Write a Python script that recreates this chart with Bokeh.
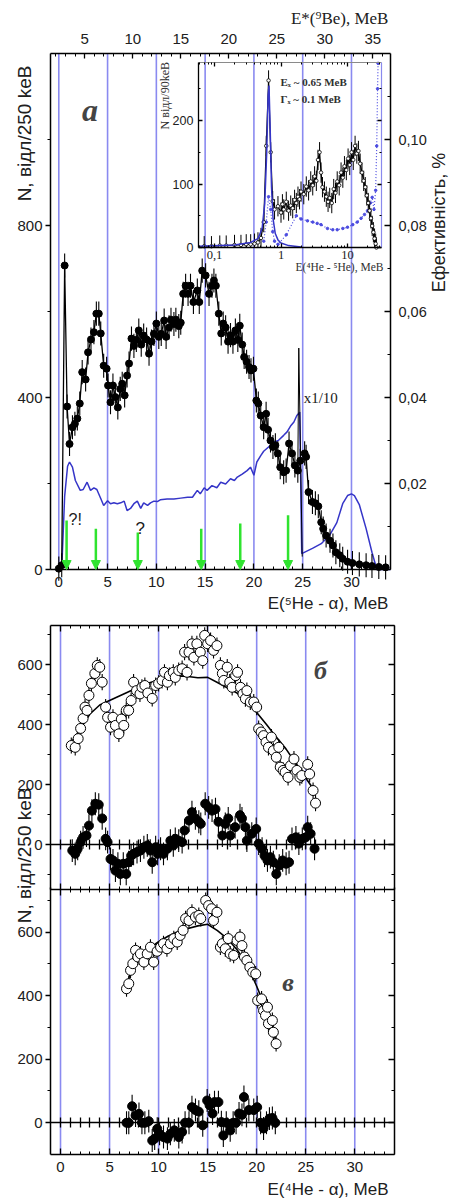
import math
from bokeh.plotting import figure
from bokeh.models import (Range1d, LinearAxis, LogAxis, LogScale, FixedTicker,
                          CustomJSTickFormatter, Label, Arrow, NormalHead, ColumnDataSource)
from bokeh.layouts import column
from bokeh.embed import file_html
from bokeh.resources import INLINE

# ---------------- data: panel a ----------------
a_x = [0.0, 0.3, 0.6, 0.85, 1.1, 1.4, 1.65, 1.9, 2.15, 2.4, 2.75, 3.0, 3.3, 3.6, 3.85, 4.1, 4.3, 4.6,
       4.9, 5.05, 5.3, 5.55, 5.8, 6.05, 6.3, 6.5, 6.75, 7.0, 7.2, 7.45, 7.7, 7.95, 8.2, 8.45, 8.7, 9.0,
       9.25, 9.5, 9.75, 10.0, 10.25, 10.5, 10.8, 11.0, 11.3, 11.5, 11.8, 12.0, 12.3, 12.5, 12.75, 13.0,
       13.25, 13.5, 13.8, 14.2, 14.4, 14.7, 15.05, 15.4, 15.7, 15.9, 16.1, 16.4, 16.65, 16.85, 17.1,
       17.35, 17.6, 17.85, 18.1, 18.35, 18.55, 18.8, 19.0, 19.25, 19.5, 19.7, 19.95, 20.25, 20.45,
       20.7, 21.0, 21.25, 21.45, 21.7, 21.95, 22.2, 22.45, 22.7, 23.05, 23.3, 23.6, 23.9, 24.2, 24.5,
       24.75]
a_n = [2, 10, 707, 379, 292, 331, 339, 351, 386, 459, 442, 505, 535, 552, 595, 595, 549, 474, 467,
       428, 389, 428, 401, 377, 420, 432, 405, 451, 479, 537, 520, 534, 556, 523, 544, 535, 502, 530,
       548, 572, 541, 548, 579, 541, 563, 581, 571, 581, 566, 574, 641, 660, 641, 660, 622, 649, 622,
       695, 684, 641, 660, 672, 660, 595, 549, 572, 563, 530, 545, 530, 556, 534, 567, 523, 494, 483,
       471, 463, 467, 393, 386, 358, 331, 362, 325, 300, 285, 289, 270, 238, 226, 230, 293, 270, 242,
       230, 253]
a_tail_x = [25.2, 25.35, 25.6, 26.0, 26.3, 26.6, 26.9, 27.1, 27.4, 27.8, 28.1, 28.4, 28.8, 29.1,
            29.6, 30.1, 30.8, 31.5, 32.1, 32.8, 33.5]
a_tail_n = [270, 262, 180, 157, 154, 147, 110, 95, 79, 67, 56, 40, 33, 25, 18, 15, 12, 10, 8, 6, 5]
edge_x = [24.5, 24.6, 24.95]
edge_n = [230, 515, 30]
ERR_A = 28

eff_x = [0.0, 0.3, 0.6, 0.9, 1.1, 1.4, 1.7, 2.2, 2.5, 2.9, 3.25, 3.6, 3.9, 4.3, 4.6, 5.0, 5.3, 5.65,
         6.0, 6.35, 6.7, 7.0, 7.35, 7.7, 8.05, 8.4, 8.7, 9.1, 9.4, 9.75, 10.1, 10.4, 11.1, 11.8, 12.5,
         13.2, 13.7, 14.2, 14.5, 14.9, 15.2, 15.7, 16.2, 16.6, 17.1, 17.6, 18.0, 18.3, 18.8, 19.3,
         19.65, 20.0, 20.3, 20.7, 21.0, 21.5, 22.0, 22.5, 23.05, 23.4, 23.8, 24.1, 24.4, 24.7, 24.9,
         26.0, 26.9, 27.8, 28.5, 29.1, 29.6, 30.0, 30.3, 30.8, 31.5, 32.1, 32.6, 34.0]
eff_pct = [0.0, 0.0, 0.0170, 0.0240, 0.0250, 0.0238, 0.0207, 0.0184, 0.0186, 0.0203, 0.0184, 0.0190,
           0.0186, 0.0165, 0.0149, 0.0160, 0.0153, 0.0155, 0.0153, 0.0155, 0.0159, 0.0137, 0.0142,
           0.0153, 0.0159, 0.0142, 0.0155, 0.0149, 0.0155, 0.0159, 0.0158, 0.0162, 0.0164, 0.0164,
           0.0166, 0.0168, 0.0168, 0.0184, 0.0176, 0.0190, 0.0184, 0.0195, 0.0190, 0.0203, 0.0199,
           0.0211, 0.0207, 0.0215, 0.0222, 0.0230, 0.0238, 0.0219, 0.0250, 0.0265, 0.0275, 0.0285,
           0.0296, 0.0300, 0.0312, 0.0320, 0.0335, 0.0343, 0.0358, 0.0366, 0.0037, 0.0049, 0.0060,
           0.0081, 0.0109, 0.0153, 0.0172, 0.0176, 0.0172, 0.0151, 0.0095, 0.0040, 0.0, 0.0]

arrow_x = [0.8, 3.8, 8.1, 14.6, 18.6, 23.5]
arrow_top = [114, 95, 86, 95, 107, 126]
arrow_tip = [0, 0, 0, 0, 0, 0]

# inset (E(4He-5He) spectrum)
ins_x = [0.07, 0.09, 0.12, 0.15, 0.2, 0.25, 0.3, 0.35, 0.4, 0.45, 0.5, 0.55, 0.6, 0.65, 0.7, 0.75,
         0.8, 0.9, 1.0, 1.05, 1.1, 1.2, 1.3, 1.4, 1.5, 1.6, 1.7, 1.8, 1.9, 2.0, 2.2, 2.4, 2.6, 2.8,
         3.0, 3.2, 3.4, 3.6, 3.8, 4.0, 4.2, 4.5, 4.8, 5.1, 5.4, 5.8, 6.2, 6.6, 7.0, 7.5, 8.0, 8.5,
         9.0, 9.6, 10.2, 10.8, 11.5, 12.2, 13.0, 13.8, 14.6, 15.5, 16.5, 17.5, 18.5, 19.5, 20.5,
         21.5, 22.5, 23.5, 24.5, 25.5, 26.5, 27.2]
ins_n = [2, 2, 3, 3, 4, 4, 5, 5, 6, 8, 15, 40, 160, 263, 150, 73, 60, 65, 55, 68, 60, 72, 58, 66,
         62, 75, 70, 80, 76, 88, 84, 96, 90, 104, 98, 112, 105, 138, 150, 118, 95, 88, 80, 72, 78,
         70, 92, 86, 104, 98, 118, 110, 128, 122, 140, 130, 150, 138, 160, 148, 152, 132, 118, 105,
         95, 82, 70, 58, 46, 34, 24, 14, 6, 0]
ERR_INS = 16
ins_fit_x = [0.0574, 0.2, 0.35, 0.45, 0.52, 0.57, 0.61, 0.64, 0.66, 0.69, 0.72, 0.76, 0.82, 0.9,
             1.0, 1.3, 2.0]
ins_fit_n = [2, 4, 8, 14, 30, 70, 150, 240, 255, 180, 95, 45, 22, 12, 7, 3, 1]
ins_sim_x = [0.55, 0.6, 0.65, 0.7, 0.75, 0.8, 0.9, 1.2, 1.7, 2.0, 2.5, 3.0, 3.5, 4.0, 5.0, 6.0, 7.0,
             8.5, 10.0, 12.0, 14.0, 16.0, 18.0, 20.0, 22.0, 23.5, 25.0, 26.5, 27.5, 28.3, 28.8]
ins_sim_n = [10, 40, 80, 60, 25, 10, 5, 20, 50, 45, 42, 40, 38, 36, 30, 28, 28, 30, 32, 36, 40, 46,
             52, 58, 70, 79, 60, 90, 160, 250, 290]

# ---------------- data: panel b ----------------
b_x = [1.1, 1.5, 1.8, 2.05, 2.3, 2.5, 2.7, 2.9, 3.15, 3.5, 3.75, 4.0, 4.25, 4.6, 4.8, 5.1, 5.35, 5.6,
       5.95, 6.2, 6.45, 6.7, 6.95, 7.2, 7.45, 7.75, 8.1, 8.3, 8.6, 8.9, 9.35, 9.7, 10.0, 10.35, 10.6,
       10.9, 11.1, 11.5, 11.7, 12.05, 12.4, 12.65, 12.9, 13.1, 13.4, 13.6, 13.9, 14.25, 14.5, 14.7,
       15.0, 15.3, 15.6, 15.95, 16.3, 16.5, 16.65, 17.0, 17.25, 17.5, 17.85, 18.05, 18.35, 18.6, 18.85,
       19.0, 19.35, 19.7, 20.0, 20.2, 20.45, 20.7, 20.95, 21.2, 21.5, 21.7, 22.0, 22.25, 22.4, 22.7,
       22.9, 23.2, 23.45, 23.8, 24.1, 24.4, 24.6, 25.2, 25.4, 25.75, 26.0]
b_n = [330, 324, 353, 387, 420, 458, 447, 497, 537, 570, 597, 591, 541, 458, 424, 391, 424, 397, 369,
       418, 397, 447, 447, 480, 541, 513, 502, 524, 530, 505, 487, 530, 537, 547, 574, 541, 563, 574,
       557, 580, 586, 641, 574, 641, 669, 624, 669, 641, 613, 697, 669, 680, 647, 663, 597, 570, 547,
       591, 541, 524, 563, 574, 524, 502, 486, 513, 475, 475, 458, 386, 375, 363, 341, 324, 358, 313,
       291, 324, 258, 247, 241, 224, 263, 285, 247, 224, 230, 267, 235, 180, 138]
bfit_x = [1.2, 2, 3, 4, 5, 6, 7, 8, 9, 10, 11, 12, 13, 14, 15, 16, 17, 18, 19, 20, 21, 22, 23, 24, 25, 26]
bfit_n = [345, 385, 435, 465, 480, 495, 510, 525, 538, 548, 556, 562, 560, 556, 557, 540, 522, 505,
          478, 440, 400, 358, 318, 270, 222, 175]
bd_x = [1.2, 1.5, 1.75, 2.05, 2.3, 2.65, 2.9, 3.2, 3.55, 3.9, 4.25, 4.6, 4.8, 5.1, 5.35, 5.6, 5.85,
        6.1, 6.4, 6.7, 6.95, 7.2, 7.45, 7.8, 8.15, 8.5, 8.85, 9.15, 9.35, 9.7, 9.9, 10.2, 10.5, 10.9,
        11.2, 11.5, 11.7, 12.05, 12.4, 12.65, 13.1, 13.4, 13.75, 14.1, 14.3, 14.75, 15.1, 15.45, 15.8,
        16.1, 16.5, 16.8, 17.1, 17.3, 17.8, 18.3, 18.5, 18.85, 19.0, 19.5, 19.95, 20.2, 20.55, 20.8,
        21.1, 21.4, 21.7, 22.0, 22.3, 22.65, 23.0, 23.3, 23.6, 24.0, 24.3, 24.65, 25.0, 25.2, 25.5, 25.9]
bd_n = [-20, -31, -14, 8, 24, 30, 63, 113, 136, 133, 87, 19, 8, -48, -53, -87, -64, -98, -64, -98,
        -59, -37, -31, -25, -20, -9, -3, -20, -59, -9, -31, -14, -31, -14, 13, -3, 19, 13, 8, 47, 80,
        108, 87, 76, 69, 136, 124, 113, 118, 76, 30, 69, 87, 30, 58, 98, 87, 58, 13, 36, 52, 3, -14,
        -37, -53, -42, -59, -98, -70, -53, -64, -59, 19, 24, 3, 19, 24, 58, 36, -14]
ERR_B = 27
ERR_BD = 38

# ---------------- data: panel v ----------------
v_x = [6.73, 6.96, 7.14, 7.37, 7.65, 7.88, 8.15, 8.5, 8.84, 9.17, 9.5, 9.85, 10.2, 10.5, 10.85, 11.2,
       11.55, 11.9, 12.2, 12.5, 12.75, 13.1, 13.4, 13.75, 14.1, 14.3, 14.8, 15.1, 15.4, 15.6, 15.95,
       16.3, 16.5, 16.8, 17.1, 17.3, 17.65, 18.0, 18.3, 18.5, 18.75, 19.0, 19.3, 19.6, 19.9, 20.1,
       20.5, 20.7, 20.9, 21.1, 21.2, 21.6, 21.7, 21.98]
v_n = [422, 438, 480, 501, 543, 522, 532, 506, 532, 553, 506, 540, 553, 564, 548, 564, 580, 569, 590,
       606, 643, 637, 663, 648, 653, 643, 700, 684, 674, 637, 663, 553, 564, 548, 580, 532, 527, 574,
       585, 558, 522, 511, 490, 474, 469, 385, 390, 353, 338, 364, 312, 322, 285, 249]
vfit_x = [6.73, 7.2, 8, 9, 10, 11, 12, 13, 14, 15, 16, 17, 18, 19, 20, 21, 22]
vfit_n = [432, 478, 518, 548, 570, 588, 602, 612, 620, 625, 605, 580, 545, 500, 430, 355, 255]
vd_x = [6.73, 6.96, 7.3, 7.65, 8.0, 8.3, 8.6, 9.0, 9.35, 9.6, 9.86, 10.1, 10.5, 10.9, 11.2, 11.6,
        12.06, 12.4, 12.7, 13.1, 13.4, 13.76, 14.1, 14.5, 14.95, 15.2, 15.5, 15.7, 16.1, 16.4, 16.6,
        16.9, 17.3, 17.6, 17.9, 18.2, 18.5, 18.7, 19.2, 19.7, 20.05, 20.4, 20.7, 21.0, 21.3, 21.6, 21.9]
vd_n = [0, 0, 52, 23, 28, 0, 0, 5, -56, -50, -19, -35, -45, -50, -35, -24, -45, -29, 0, 0, 49, 40,
        35, -8, 70, 55, 29, 65, 65, 2, -40, 0, -24, 0, 0, 29, 25, 81, 40, 40, 49, 0, -18, 0, 13, 15, 0]
ERR_V = 25
ERR_VD = 36

# ---------------- ticks ----------------
x_major = [0, 5, 10, 15, 20, 25, 30]
x_minor = list(range(0, 35))
top_major = [5, 10, 15, 20, 25, 30, 35]
top_minor = list(range(2, 37))
n_major_a = [0, 400, 800]
n_minor_a = [200, 600, 1000]
eff_major = [0.02, 0.04, 0.06, 0.08, 0.10]
eff_minor = [0.01, 0.03, 0.05, 0.07, 0.09, 0.11]
ins_x_major = [0.1, 1, 10]
ins_x_minor = [0.06, 0.07, 0.08, 0.09, 0.2, 0.3, 0.4, 0.5, 0.6, 0.7, 0.8, 0.9,
               2, 3, 4, 5, 6, 7, 8, 9, 20, 30]
ins_n_major = [0, 100, 200]
ins_n_minor = [50, 150, 250]
bv_major = [0, 200, 400, 600]
b_minor = [-100, 100, 300, 500, 700]
v_minor = [100, 300, 500, 700]
zero_ticks = list(range(0, 34))

# ---------------- styles ----------------
BLUE = "#3535c8"
GRID = "#8a8af0"
GREEN = "#2fe32f"
SANS = "Liberation Sans"
SERIF = "Liberation Serif"


def ext(lo, hi, plo, phi, total):
    """range whose [lo, hi] sits at pixels [plo, phi] of a canvas side 0..total"""
    s = (hi - lo) / (phi - plo)
    return lo - plo * s, hi + (total - phi) * s


def style_axis(ax, size="15px", show=True, t_in=0, t_out=0, m_in=0, m_out=0, standoff=4,
               font=SANS, color="black", lw=1.5):
    ax.axis_line_width = lw
    ax.axis_line_color = color
    ax.major_tick_line_width = 1.3
    ax.minor_tick_line_width = 1.0
    ax.major_tick_line_color = "black"
    ax.minor_tick_line_color = "black"
    ax.major_tick_in = t_in
    ax.major_tick_out = t_out
    ax.minor_tick_in = m_in
    ax.minor_tick_out = m_out
    ax.major_label_text_font = font
    if show:
        ax.major_label_text_font_size = size
        ax.major_label_standoff = standoff
        ax.major_label_text_color = "#202020"
    else:
        ax.major_label_text_font_size = "2px"
        ax.major_label_standoff = 0
        ax.major_label_text_alpha = 0
    ax.axis_label = None


def errbars(p, xs, ys, err, **kw):
    p.segment(x0=xs, y0=[y - err for y in ys], x1=xs, y1=[y + err for y in ys],
              line_color="black", line_width=1.1, **kw)


# ================= panel a (frame = whole canvas, axes fixed) =================
WA, HA = 453, 612
XA0, XA1 = -0.85, 34.0          # frame x extent (px 50..390)
YA0, YA1 = 0, 1200              # frame y extent (px 569..53)
TX0, TX1 = 1.43, 36.84
IXL0, IXL1 = math.log10(3.42e-4), math.log10(44.3)
lx0, lx1 = ext(IXL0, IXL1, 50, 390, WA)

pa = figure(width=WA, height=HA, x_range=Range1d(*ext(XA0, XA1, 50, 390, WA)),
            y_range=Range1d(*ext(YA0, YA1, 43, 559, HA)),
            x_axis_location=None, y_axis_location=None,
            output_backend="svg", toolbar_location=None,
            min_border_left=0, min_border_right=0, min_border_top=0, min_border_bottom=0)
pa.extra_x_ranges = {"top": Range1d(*ext(TX0, TX1, 50, 390, WA)),
                     "ix": Range1d(10 ** lx0, 10 ** lx1)}
pa.extra_x_scales = {"ix": LogScale()}
pa.extra_y_ranges = {"eff": Range1d(*ext(0, 0.12, 43, 559, HA)),
                     "iy": Range1d(*ext(-507, 305.5, 43, 559, HA))}
pa.outline_line_color = None
pa.grid.visible = False

# vertical blue lines
pa.segment(x0=x_major, y0=[YA0] * len(x_major), x1=x_major, y1=[YA1] * len(x_major),
           line_color=GRID, line_width=1.6)

axb = LinearAxis(fixed_location=YA0, bounds=(XA0, XA1),
                 ticker=FixedTicker(ticks=x_major, minor_ticks=x_minor))
style_axis(axb, t_in=6, m_in=3, standoff=7)
pa.add_layout(axb, "below")
axl = LinearAxis(fixed_location=XA0, bounds=(YA0, YA1),
                 ticker=FixedTicker(ticks=n_major_a, minor_ticks=n_minor_a))
style_axis(axl, t_out=5, m_out=3, standoff=3)
pa.add_layout(axl, "left")
axr = LinearAxis(y_range_name="eff", fixed_location=XA1, bounds=(0, 0.12),
                 ticker=FixedTicker(ticks=eff_major, minor_ticks=eff_minor),
                 formatter=CustomJSTickFormatter(code="return tick.toFixed(2).replace('.', ',');"))
style_axis(axr, size="14.5px", t_in=6, m_in=3, standoff=8)
pa.add_layout(axr, "right")
axt = LinearAxis(x_range_name="top", fixed_location=YA1, bounds=(TX0, TX1),
                 ticker=FixedTicker(ticks=top_major, minor_ticks=top_minor))
style_axis(axt, t_in=5, m_in=3, standoff=10)
pa.add_layout(axt, "above")

# inset axes
IX0, IX1, IY0, IY1 = 0.0574, 31.9, 0, 291
ins_fmt = CustomJSTickFormatter(code="return tick < 1 ? tick.toFixed(1).replace('.', ',') : tick.toFixed(0);")
ia_b = LogAxis(x_range_name="ix", y_range_name="iy", fixed_location=IY0, bounds=(IX0, IX1),
               ticker=FixedTicker(ticks=ins_x_major, minor_ticks=ins_x_minor), formatter=ins_fmt)
style_axis(ia_b, size="12.5px", t_in=4, m_in=2, standoff=3, font=SERIF, lw=1.3)
pa.add_layout(ia_b, "below")
ia_l = LinearAxis(x_range_name="ix", y_range_name="iy", fixed_location=IX0, bounds=(IY0, IY1),
                  ticker=FixedTicker(ticks=ins_n_major, minor_ticks=ins_n_minor))
style_axis(ia_l, size="12.5px", t_in=4, m_in=2, standoff=5, lw=1.3)
pa.add_layout(ia_l, "left")
ia_t = LogAxis(x_range_name="ix", y_range_name="iy", fixed_location=IY1, bounds=(IX0, IX1),
               ticker=FixedTicker(ticks=ins_x_major, minor_ticks=ins_x_minor))
style_axis(ia_t, show=False, t_in=4, m_in=2, color="#8a8a8a", lw=1.2)
pa.add_layout(ia_t, "above")
ia_r = LinearAxis(x_range_name="ix", y_range_name="iy", fixed_location=IX1, bounds=(IY0, IY1),
                  ticker=FixedTicker(ticks=ins_n_major, minor_ticks=ins_n_minor))
style_axis(ia_r, show=False, t_in=4, m_in=2, color="#8a8aee", lw=1.2)
pa.add_layout(ia_r, "right")

# efficiency curve
pa.line(eff_x, eff_pct, y_range_name="eff", line_color=BLUE, line_width=1.5)
# data
pa.line(a_x, a_n, line_color="black", line_width=1.3)
pa.line(edge_x, edge_n, line_color="black", line_width=1.0)
pa.line(a_tail_x, a_tail_n, line_color="black", line_width=1.3)
errbars(pa, a_x, a_n, ERR_A)
errbars(pa, a_tail_x, a_tail_n, ERR_A)
pa.scatter(a_x, a_n, size=7, color="black")
pa.scatter(a_tail_x, a_tail_n, size=7, color="black")

# inset glyphs
pa.line(ins_sim_x, ins_sim_n, x_range_name="ix", y_range_name="iy", line_color="#4b4be0",
        line_width=1.2, line_dash="1 2")
pa.scatter(ins_sim_x, ins_sim_n, x_range_name="ix", y_range_name="iy", size=2.5,
           color="#4b4be0")
pa.segment(x0=ins_x, y0=[max(0, n - ERR_INS) for n in ins_n], x1=ins_x,
           y1=[n + ERR_INS for n in ins_n], x_range_name="ix", y_range_name="iy",
           line_color="black", line_width=1.0)
pa.line(ins_x, ins_n, x_range_name="ix", y_range_name="iy", line_color="black", line_width=1.2)
pa.scatter(ins_x, ins_n, x_range_name="ix", y_range_name="iy", size=3.5, fill_color="white",
           line_color="black", line_width=0.8)
pa.line(ins_fit_x, ins_fit_n, x_range_name="ix", y_range_name="iy", line_color=BLUE, line_width=1.5)

# arrows
asrc = ColumnDataSource(dict(x0=arrow_x, y0=arrow_top, x1=arrow_x, y1=arrow_tip))
pa.add_layout(Arrow(end=NormalHead(size=9, fill_color=GREEN, line_color=GREEN),
                    x_start="x0", y_start="y0", x_end="x1", y_end="y1", source=asrc,
                    line_color=GREEN, line_width=2.5))

# texts panel a
pa.add_layout(Label(x=3.2, y=1068, text="а", text_font=SERIF, text_font_style="bold italic",
                    text_font_size="32px", text_align="center", text_baseline="alphabetic"))
pa.add_layout(Label(x=33.79, y=1281, text="E*(⁹Be), MeB", text_font=SERIF, text_font_size="17px",
                    text_align="right", text_baseline="middle", text_color="#202020"))
pa.add_layout(Label(x=33.79, y=-79, text="E(⁵He - α), MeB", text_font=SANS, text_font_size="17px",
                    text_align="right", text_baseline="middle", text_color="#202020"))
pa.add_layout(Label(x=-3.51, y=1014, text="N, відл/250 keB", text_font=SANS, text_font_size="19px",
                    angle=math.pi / 2, text_align="center", text_baseline="middle",
                    text_color="#202020"))
pa.add_layout(Label(x=38.99, y=807, text="Ефективність, %", text_font=SANS, text_font_size="18px",
                    angle=math.pi / 2, text_align="center", text_baseline="middle",
                    text_color="#202020"))
pa.add_layout(Label(x=1.0, y=117, text="?!", text_font=SANS, text_font_size="16px",
                    text_align="left", text_baseline="alphabetic", text_color="#202020"))
pa.add_layout(Label(x=7.86, y=96, text="?", text_font=SANS, text_font_size="17px",
                    text_align="left", text_baseline="alphabetic", text_color="#202020"))
pa.add_layout(Label(x=25.1, y=400, text="x1/10", text_font=SERIF, text_font_size="15px",
                    text_align="left", text_baseline="alphabetic", text_color="#202020"))
pa.add_layout(Label(x=0.98, y=260, x_range_name="ix", y_range_name="iy", text="Eₓ ~ 0.65 MeB",
                    text_font=SERIF, text_font_style="bold", text_font_size="11px",
                    text_align="left", text_baseline="middle", text_color="#303030"))
pa.add_layout(Label(x=0.98, y=234, x_range_name="ix", y_range_name="iy", text="Γₓ ~ 0.1 MeB",
                    text_font=SERIF, text_font_style="bold", text_font_size="11px",
                    text_align="left", text_baseline="middle", text_color="#303030"))
pa.add_layout(Label(x=34.7, y=-30, x_range_name="ix", y_range_name="iy",
                    text="E(⁴He - ⁵He), MeB", text_font=SERIF, text_font_size="11.5px",
                    text_align="right", text_baseline="middle", text_color="#303030"))
pa.add_layout(Label(x=0.0183, y=239, x_range_name="ix", y_range_name="iy", text="N відл/90keB",
                    text_font=SERIF, text_font_size="12px", angle=math.pi / 2,
                    text_align="center", text_baseline="middle", text_color="#303030"))

# ================= panels б, в (frame = whole canvas, axes fixed) =================
WB, HB = 453, 586
XB0, XB1 = -1.02, 34.05         # px 50..394
VY0, VY1 = -100, 1566           # в range over frame px (from bottom) 44..573
BY0, BY1 = -1033, 730           # б range over the same pixels
pbv = figure(width=WB, height=HB, x_range=Range1d(*ext(XB0, XB1, 50, 394, WB)),
             y_range=Range1d(*ext(VY0, VY1, 44, 573, HB)),
             x_axis_location=None, y_axis_location=None,
             output_backend="svg", toolbar_location=None,
             min_border_left=0, min_border_right=0, min_border_top=0, min_border_bottom=0)
pbv.extra_y_ranges = {"b": Range1d(*ext(BY0, BY1, 44, 573, HB))}
pbv.outline_line_color = None
pbv.grid.visible = False

pbv.segment(x0=x_major, y0=[VY0] * len(x_major), x1=x_major, y1=[VY1] * len(x_major),
            line_color=GRID, line_width=1.6)

bx = LinearAxis(fixed_location=VY0, bounds=(XB0, XB1),
                ticker=FixedTicker(ticks=x_major, minor_ticks=x_minor))
style_axis(bx, t_in=6, m_in=3, standoff=7)
pbv.add_layout(bx, "below")
tx = LinearAxis(fixed_location=VY1, bounds=(XB0, XB1),
                ticker=FixedTicker(ticks=x_major, minor_ticks=x_minor))
style_axis(tx, show=False, t_in=6, m_in=3)
pbv.add_layout(tx, "above")
sep = LinearAxis(y_range_name="b", fixed_location=-150, bounds=(XB0, XB1),
                 ticker=FixedTicker(ticks=x_major, minor_ticks=x_minor))
style_axis(sep, show=False, t_in=6, t_out=6, m_in=3, m_out=3, lw=1.6)
pbv.add_layout(sep, "below")
z_b = LinearAxis(y_range_name="b", fixed_location=0, bounds=(XB0, XB1),
                 ticker=FixedTicker(ticks=zero_ticks))
style_axis(z_b, show=False, t_in=5, t_out=5, lw=1.3)
pbv.add_layout(z_b, "below")
z_v = LinearAxis(fixed_location=0, bounds=(XB0, XB1), ticker=FixedTicker(ticks=zero_ticks))
style_axis(z_v, show=False, t_in=5, t_out=5, lw=1.3)
pbv.add_layout(z_v, "below")

lb = LinearAxis(y_range_name="b", fixed_location=XB0, bounds=(-150, 730),
                ticker=FixedTicker(ticks=bv_major, minor_ticks=b_minor))
style_axis(lb, t_out=5, m_out=3, standoff=3)
pbv.add_layout(lb, "left")
lv = LinearAxis(fixed_location=XB0, bounds=(-100, 740),
                ticker=FixedTicker(ticks=bv_major, minor_ticks=v_minor))
style_axis(lv, t_out=5, m_out=3, standoff=3)
pbv.add_layout(lv, "left")
rb = LinearAxis(y_range_name="b", fixed_location=XB1, bounds=(-150, 730),
                ticker=FixedTicker(ticks=bv_major, minor_ticks=b_minor))
style_axis(rb, show=False, t_in=6, m_in=3)
pbv.add_layout(rb, "right")
rv = LinearAxis(fixed_location=XB1, bounds=(-100, 740),
                ticker=FixedTicker(ticks=bv_major, minor_ticks=v_minor))
style_axis(rv, show=False, t_in=6, m_in=3)
pbv.add_layout(rv, "right")

# б
errbars(pbv, b_x, b_n, ERR_B, y_range_name="b")
pbv.line(bfit_x, bfit_n, y_range_name="b", line_color="black", line_width=1.6)
pbv.scatter(b_x, b_n, y_range_name="b", size=10, fill_color="white", line_color="black",
            line_width=1.0)
errbars(pbv, bd_x, bd_n, ERR_BD, y_range_name="b")
pbv.scatter(bd_x, bd_n, y_range_name="b", size=9, color="black")
# в
errbars(pbv, v_x, v_n, ERR_V)
pbv.line(vfit_x, vfit_n, line_color="black", line_width=1.6)
pbv.scatter(v_x, v_n, size=10, fill_color="white", line_color="black", line_width=1.0)
errbars(pbv, vd_x, vd_n, ERR_VD)
pbv.scatter(vd_x, vd_n, size=9, color="black")

pbv.add_layout(Label(x=26.5, y=580, y_range_name="b", text="б", text_font=SERIF,
                     text_font_style="bold italic", text_font_size="26px", text_align="center",
                     text_baseline="alphabetic"))
pbv.add_layout(Label(x=23.2, y=442, text="в", text_font=SERIF, text_font_style="bold italic",
                     text_font_size="26px", text_align="center", text_baseline="alphabetic"))
pbv.add_layout(Label(x=-3.67, y=842, text="N, відл/250 keB", text_font=SANS, text_font_size="19px",
                     angle=math.pi / 2, text_align="center", text_baseline="middle",
                     text_color="#202020"))
pbv.add_layout(Label(x=33.44, y=-210, text="E(⁴He - α), MeB", text_font=SANS, text_font_size="17px",
                     text_align="right", text_baseline="middle", text_color="#202020"))

layout = column(pa, pbv, spacing=0)
open("out.html", "w").write(file_html(layout, INLINE))
